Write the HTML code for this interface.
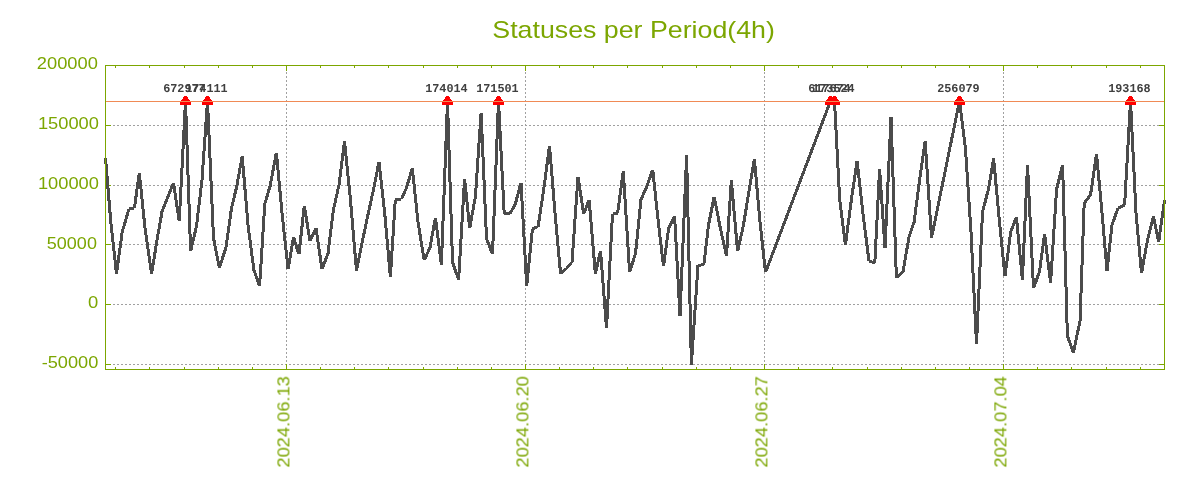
<!DOCTYPE html>
<html><head><meta charset="utf-8"><title>Statuses per Period(4h)</title>
<style>html,body{margin:0;padding:0;background:#fff;}svg{display:block;}text{font-family:"Liberation Sans",sans-serif;}.m{font-family:"Liberation Mono",monospace;font-weight:bold;}</style></head>
<body>
<svg width="1200" height="500" viewBox="0 0 1200 500">
<rect width="1200" height="500" fill="#fff"/>
<g stroke="#a0a0a0" stroke-width="1" stroke-dasharray="2 2" shape-rendering="crispEdges" fill="none">
<line x1="105" y1="125.5" x2="1165" y2="125.5"/>
<line x1="105" y1="185.5" x2="1165" y2="185.5"/>
<line x1="105" y1="244.5" x2="1165" y2="244.5"/>
<line x1="105" y1="304.5" x2="1165" y2="304.5"/>
<line x1="105" y1="364.5" x2="1165" y2="364.5"/>
<line x1="286.5" y1="370" x2="286.5" y2="65"/>
<line x1="525.5" y1="370" x2="525.5" y2="65"/>
<line x1="764.5" y1="370" x2="764.5" y2="65"/>
<line x1="1003.5" y1="370" x2="1003.5" y2="65"/>
</g>
<g stroke="#7ca600" stroke-width="1" fill="none" shape-rendering="crispEdges">
<line x1="105" y1="125.5" x2="111" y2="125.5"/><line x1="1159" y1="125.5" x2="1165" y2="125.5"/>
<line x1="105" y1="185.5" x2="111" y2="185.5"/><line x1="1159" y1="185.5" x2="1165" y2="185.5"/>
<line x1="105" y1="244.5" x2="111" y2="244.5"/><line x1="1159" y1="244.5" x2="1165" y2="244.5"/>
<line x1="105" y1="304.5" x2="111" y2="304.5"/><line x1="1159" y1="304.5" x2="1165" y2="304.5"/>
<line x1="105" y1="364.5" x2="111" y2="364.5"/><line x1="1159" y1="364.5" x2="1165" y2="364.5"/>
<line x1="286.5" y1="364" x2="286.5" y2="370"/><line x1="286.5" y1="65" x2="286.5" y2="71"/>
<line x1="525.5" y1="364" x2="525.5" y2="370"/><line x1="525.5" y1="65" x2="525.5" y2="71"/>
<line x1="764.5" y1="364" x2="764.5" y2="370"/><line x1="764.5" y1="65" x2="764.5" y2="71"/>
<line x1="1003.5" y1="364" x2="1003.5" y2="370"/><line x1="1003.5" y1="65" x2="1003.5" y2="71"/>
<line x1="115.5" y1="367" x2="115.5" y2="370"/><line x1="115.5" y1="65" x2="115.5" y2="68"/>
<line x1="149.5" y1="367" x2="149.5" y2="370"/><line x1="149.5" y1="65" x2="149.5" y2="68"/>
<line x1="184.5" y1="367" x2="184.5" y2="370"/><line x1="184.5" y1="65" x2="184.5" y2="68"/>
<line x1="218.5" y1="367" x2="218.5" y2="370"/><line x1="218.5" y1="65" x2="218.5" y2="68"/>
<line x1="252.5" y1="367" x2="252.5" y2="370"/><line x1="252.5" y1="65" x2="252.5" y2="68"/>
<line x1="320.5" y1="367" x2="320.5" y2="370"/><line x1="320.5" y1="65" x2="320.5" y2="68"/>
<line x1="354.5" y1="367" x2="354.5" y2="370"/><line x1="354.5" y1="65" x2="354.5" y2="68"/>
<line x1="388.5" y1="367" x2="388.5" y2="370"/><line x1="388.5" y1="65" x2="388.5" y2="68"/>
<line x1="423.5" y1="367" x2="423.5" y2="370"/><line x1="423.5" y1="65" x2="423.5" y2="68"/>
<line x1="457.5" y1="367" x2="457.5" y2="370"/><line x1="457.5" y1="65" x2="457.5" y2="68"/>
<line x1="491.5" y1="367" x2="491.5" y2="370"/><line x1="491.5" y1="65" x2="491.5" y2="68"/>
<line x1="559.5" y1="367" x2="559.5" y2="370"/><line x1="559.5" y1="65" x2="559.5" y2="68"/>
<line x1="593.5" y1="367" x2="593.5" y2="370"/><line x1="593.5" y1="65" x2="593.5" y2="68"/>
<line x1="627.5" y1="367" x2="627.5" y2="370"/><line x1="627.5" y1="65" x2="627.5" y2="68"/>
<line x1="662.5" y1="367" x2="662.5" y2="370"/><line x1="662.5" y1="65" x2="662.5" y2="68"/>
<line x1="696.5" y1="367" x2="696.5" y2="370"/><line x1="696.5" y1="65" x2="696.5" y2="68"/>
<line x1="730.5" y1="367" x2="730.5" y2="370"/><line x1="730.5" y1="65" x2="730.5" y2="68"/>
<line x1="798.5" y1="367" x2="798.5" y2="370"/><line x1="798.5" y1="65" x2="798.5" y2="68"/>
<line x1="832.5" y1="367" x2="832.5" y2="370"/><line x1="832.5" y1="65" x2="832.5" y2="68"/>
<line x1="867.5" y1="367" x2="867.5" y2="370"/><line x1="867.5" y1="65" x2="867.5" y2="68"/>
<line x1="901.5" y1="367" x2="901.5" y2="370"/><line x1="901.5" y1="65" x2="901.5" y2="68"/>
<line x1="935.5" y1="367" x2="935.5" y2="370"/><line x1="935.5" y1="65" x2="935.5" y2="68"/>
<line x1="969.5" y1="367" x2="969.5" y2="370"/><line x1="969.5" y1="65" x2="969.5" y2="68"/>
<line x1="1037.5" y1="367" x2="1037.5" y2="370"/><line x1="1037.5" y1="65" x2="1037.5" y2="68"/>
<line x1="1071.5" y1="367" x2="1071.5" y2="370"/><line x1="1071.5" y1="65" x2="1071.5" y2="68"/>
<line x1="1106.5" y1="367" x2="1106.5" y2="370"/><line x1="1106.5" y1="65" x2="1106.5" y2="68"/>
<line x1="1140.5" y1="367" x2="1140.5" y2="370"/><line x1="1140.5" y1="65" x2="1140.5" y2="68"/>
</g>
<g fill="#4b4b4b" shape-rendering="crispEdges">
<polygon points="103.99,158.00 107.01,158.00 112.31,222.00 109.29,222.00"/>
<polygon points="109.29,222.00 112.31,222.00 118.01,273.90 114.99,273.90"/>
<polygon points="120.69,232.00 123.71,232.00 118.01,273.90 114.99,273.90"/>
<polygon points="127.44,208.60 130.56,208.60 123.76,232.00 120.64,232.00"/>
<polygon points="129.00,207.10 134.40,206.70 134.40,209.70 129.00,210.10"/>
<polygon points="137.79,172.60 140.81,172.60 135.91,208.20 132.89,208.20"/>
<polygon points="137.79,172.60 140.81,172.60 146.51,228.00 143.49,228.00"/>
<polygon points="143.48,228.00 146.52,228.00 153.12,273.90 150.08,273.90"/>
<polygon points="155.48,240.00 158.52,240.00 153.12,273.90 150.08,273.90"/>
<polygon points="160.58,211.50 163.62,211.50 158.52,240.00 155.48,240.00"/>
<polygon points="166.19,197.00 169.41,197.00 163.71,211.50 160.49,211.50"/>
<polygon points="171.89,182.60 175.11,182.60 169.41,197.00 166.19,197.00"/>
<polygon points="171.98,182.60 175.02,182.60 180.72,221.40 177.68,221.40"/>
<polygon points="184.00,101.00 187.00,101.00 180.70,221.40 177.70,221.40"/>
<polygon points="184.00,101.00 187.00,101.00 192.10,251.40 189.10,251.40"/>
<polygon points="194.96,226.00 198.04,226.00 192.14,251.40 189.06,251.40"/>
<polygon points="200.49,180.00 203.51,180.00 198.01,226.00 194.99,226.00"/>
<polygon points="206.00,101.00 209.00,101.00 203.50,180.00 200.50,180.00"/>
<polygon points="206.00,101.00 209.00,101.00 215.00,238.00 212.00,238.00"/>
<polygon points="211.97,238.00 215.03,238.00 220.93,267.90 217.87,267.90"/>
<polygon points="224.42,247.50 227.58,247.50 220.98,267.90 217.82,267.90"/>
<polygon points="229.99,208.00 233.01,208.00 227.51,247.50 224.49,247.50"/>
<polygon points="234.96,187.50 238.04,187.50 233.04,208.00 229.96,208.00"/>
<polygon points="240.68,156.10 243.72,156.10 238.02,187.50 234.98,187.50"/>
<polygon points="240.69,156.10 243.71,156.10 249.51,225.00 246.49,225.00"/>
<polygon points="246.49,225.00 249.51,225.00 255.41,270.00 252.39,270.00"/>
<polygon points="252.31,270.00 255.49,270.00 261.19,285.90 258.01,285.90"/>
<polygon points="263.30,204.00 266.30,204.00 261.10,285.90 258.10,285.90"/>
<polygon points="268.54,186.00 271.66,186.00 266.36,204.00 263.24,204.00"/>
<polygon points="274.87,152.60 277.93,152.60 271.63,186.00 268.57,186.00"/>
<polygon points="274.89,152.60 277.91,152.60 283.51,213.00 280.49,213.00"/>
<polygon points="280.49,213.00 283.51,213.00 289.61,269.40 286.59,269.40"/>
<polygon points="291.98,237.10 295.02,237.10 289.62,269.40 286.58,269.40"/>
<polygon points="291.93,237.10 295.07,237.10 300.47,254.40 297.33,254.40"/>
<polygon points="302.79,205.80 305.81,205.80 300.41,254.40 297.39,254.40"/>
<polygon points="302.78,205.80 305.82,205.80 311.52,240.90 308.48,240.90"/>
<polygon points="314.35,227.80 317.65,227.80 311.65,240.90 308.35,240.90"/>
<polygon points="314.48,227.80 317.52,227.80 323.52,269.40 320.48,269.40"/>
<polygon points="326.40,253.50 329.60,253.50 323.60,269.40 320.40,269.40"/>
<polygon points="331.89,210.00 334.91,210.00 329.51,253.50 326.49,253.50"/>
<polygon points="337.56,184.50 340.64,184.50 334.94,210.00 331.86,210.00"/>
<polygon points="342.99,141.10 346.01,141.10 340.61,184.50 337.59,184.50"/>
<polygon points="342.99,141.10 346.01,141.10 351.81,198.00 348.79,198.00"/>
<polygon points="348.79,198.00 351.81,198.00 358.01,270.90 354.99,270.90"/>
<polygon points="360.67,242.00 363.73,242.00 358.03,270.90 354.97,270.90"/>
<polygon points="366.37,215.00 369.43,215.00 363.73,242.00 360.67,242.00"/>
<polygon points="372.06,189.00 375.14,189.00 369.44,215.00 366.36,215.00"/>
<polygon points="377.47,161.60 380.53,161.60 375.13,189.00 372.07,189.00"/>
<polygon points="377.49,161.60 380.51,161.60 386.21,213.00 383.19,213.00"/>
<polygon points="383.19,213.00 386.21,213.00 391.91,276.90 388.89,276.90"/>
<polygon points="393.80,199.60 396.80,199.60 391.90,276.90 388.90,276.90"/>
<polygon points="395.30,198.10 401.40,197.90 401.40,200.90 395.30,201.10"/>
<polygon points="404.96,187.50 408.24,187.50 403.04,199.40 399.76,199.40"/>
<polygon points="410.74,168.10 413.86,168.10 408.16,187.50 405.04,187.50"/>
<polygon points="410.79,168.10 413.81,168.10 419.51,222.00 416.49,222.00"/>
<polygon points="416.48,222.00 419.52,222.00 425.72,260.40 422.68,260.40"/>
<polygon points="428.36,247.50 431.64,247.50 425.84,260.40 422.56,260.40"/>
<polygon points="433.88,217.60 436.92,217.60 431.52,247.50 428.48,247.50"/>
<polygon points="433.89,217.60 436.91,217.60 442.91,264.90 439.89,264.90"/>
<polygon points="446.00,101.00 449.00,101.00 442.90,264.90 439.90,264.90"/>
<polygon points="446.00,101.00 449.00,101.00 454.00,262.00 451.00,262.00"/>
<polygon points="450.92,262.00 454.08,262.00 460.18,279.90 457.02,279.90"/>
<polygon points="463.10,178.60 466.10,178.60 460.10,279.90 457.10,279.90"/>
<polygon points="463.09,178.60 466.11,178.60 471.21,228.30 468.19,228.30"/>
<polygon points="473.88,196.50 476.92,196.50 471.22,228.30 468.18,228.30"/>
<polygon points="479.60,112.60 482.60,112.60 476.90,196.50 473.90,196.50"/>
<polygon points="479.60,112.60 482.60,112.60 488.00,238.50 485.00,238.50"/>
<polygon points="484.90,238.50 488.10,238.50 494.10,254.40 490.90,254.40"/>
<polygon points="497.00,101.00 500.00,101.00 494.00,254.40 491.00,254.40"/>
<polygon points="497.00,101.00 500.00,101.00 505.70,213.70 502.70,213.70"/>
<polygon points="504.20,212.20 510.00,212.20 510.00,215.20 504.20,215.20"/>
<polygon points="513.59,204.00 517.01,204.00 511.71,213.70 508.29,213.70"/>
<polygon points="519.45,182.60 522.55,182.60 516.85,204.00 513.75,204.00"/>
<polygon points="519.50,182.60 522.50,182.60 528.20,285.90 525.20,285.90"/>
<polygon points="530.89,229.00 533.91,229.00 528.21,285.90 525.19,285.90"/>
<polygon points="532.40,227.36 538.10,224.86 538.10,228.14 532.40,230.64"/>
<polygon points="542.28,189.00 545.32,189.00 539.62,226.50 536.58,226.50"/>
<polygon points="547.99,145.60 551.01,145.60 545.31,189.00 542.29,189.00"/>
<polygon points="547.99,145.60 551.01,145.60 556.71,215.00 553.69,215.00"/>
<polygon points="553.69,215.00 556.71,215.00 562.11,273.90 559.09,273.90"/>
<polygon points="564.21,268.00 568.39,268.00 562.69,273.90 558.51,273.90"/>
<polygon points="566.30,265.92 572.00,260.42 572.00,264.58 566.30,270.08"/>
<polygon points="576.50,176.60 579.50,176.60 573.50,262.50 570.50,262.50"/>
<polygon points="576.48,176.60 579.52,176.60 585.22,213.90 582.18,213.90"/>
<polygon points="587.50,199.60 590.70,199.60 585.30,213.90 582.10,213.90"/>
<polygon points="587.59,199.60 590.61,199.60 596.91,273.90 593.89,273.90"/>
<polygon points="598.96,250.60 602.04,250.60 596.94,273.90 593.86,273.90"/>
<polygon points="599.00,250.60 602.00,250.60 608.00,328.30 605.00,328.30"/>
<polygon points="611.00,213.60 614.00,213.60 608.00,328.30 605.00,328.30"/>
<polygon points="612.50,212.09 617.60,211.49 617.60,214.51 612.50,215.11"/>
<polygon points="621.79,171.10 624.81,171.10 619.11,213.00 616.09,213.00"/>
<polygon points="621.80,171.10 624.80,171.10 631.10,272.40 628.10,272.40"/>
<polygon points="633.93,253.50 637.07,253.50 631.17,272.40 628.03,272.40"/>
<polygon points="639.49,199.50 642.51,199.50 637.01,253.50 633.99,253.50"/>
<polygon points="645.36,186.00 648.64,186.00 642.64,199.50 639.36,199.50"/>
<polygon points="651.11,169.60 654.29,169.60 648.59,186.00 645.41,186.00"/>
<polygon points="651.19,169.60 654.21,169.60 659.81,222.00 656.79,222.00"/>
<polygon points="656.79,222.00 659.81,222.00 665.01,266.40 661.99,266.40"/>
<polygon points="667.09,228.60 670.11,228.60 665.01,266.40 661.99,266.40"/>
<polygon points="672.94,216.10 676.26,216.10 670.26,228.60 666.94,228.60"/>
<polygon points="673.10,216.10 676.10,216.10 681.50,315.90 678.50,315.90"/>
<polygon points="685.10,155.20 688.10,155.20 681.50,315.90 678.50,315.90"/>
<polygon points="685.10,155.20 688.10,155.20 692.90,364.50 689.90,364.50"/>
<polygon points="696.50,265.30 699.50,265.30 692.90,364.50 689.90,364.50"/>
<polygon points="698.00,263.79 703.80,263.29 703.80,266.31 698.00,266.81"/>
<polygon points="706.99,225.00 710.01,225.00 705.31,264.80 702.29,264.80"/>
<polygon points="712.67,196.60 715.73,196.60 710.03,225.00 706.97,225.00"/>
<polygon points="712.67,196.60 715.73,196.60 721.83,228.00 718.77,228.00"/>
<polygon points="718.76,228.00 721.84,228.00 728.04,255.90 724.96,255.90"/>
<polygon points="729.80,180.10 732.80,180.10 728.00,255.90 725.00,255.90"/>
<polygon points="729.79,180.10 732.81,180.10 739.11,251.40 736.09,251.40"/>
<polygon points="741.76,226.00 744.84,226.00 739.14,251.40 736.06,251.40"/>
<polygon points="747.18,193.00 750.22,193.00 744.82,226.00 741.78,226.00"/>
<polygon points="752.88,159.10 755.92,159.10 750.22,193.00 747.18,193.00"/>
<polygon points="752.89,159.10 755.91,159.10 761.51,222.00 758.49,222.00"/>
<polygon points="758.49,222.00 761.51,222.00 767.01,272.40 763.99,272.40"/>
<polygon points="828.90,101.00 832.10,101.00 767.10,272.40 763.90,272.40"/>
<polygon points="830.50,99.50 834.50,99.50 834.50,102.50 830.50,102.50"/>
<polygon points="833.00,101.00 836.00,101.00 841.20,200.00 838.20,200.00"/>
<polygon points="838.19,200.00 841.21,200.00 846.91,245.40 843.89,245.40"/>
<polygon points="849.89,199.50 852.91,199.50 846.91,245.40 843.89,245.40"/>
<polygon points="855.58,160.60 858.62,160.60 852.92,199.50 849.88,199.50"/>
<polygon points="855.59,160.60 858.61,160.60 864.31,212.00 861.29,212.00"/>
<polygon points="861.29,212.00 864.31,212.00 870.51,261.40 867.49,261.40"/>
<polygon points="869.00,259.86 874.80,261.16 874.80,264.24 869.00,262.94"/>
<polygon points="878.10,169.00 881.10,169.00 876.30,262.70 873.30,262.70"/>
<polygon points="878.10,169.00 881.10,169.00 886.50,248.40 883.50,248.40"/>
<polygon points="889.50,117.10 892.50,117.10 886.50,248.40 883.50,248.40"/>
<polygon points="889.50,117.10 892.50,117.10 897.90,278.40 894.90,278.40"/>
<polygon points="900.92,271.50 905.08,271.50 898.48,278.40 894.32,278.40"/>
<polygon points="907.48,237.00 910.52,237.00 904.52,271.50 901.48,271.50"/>
<polygon points="912.52,222.00 915.68,222.00 910.58,237.00 907.42,237.00"/>
<polygon points="918.09,180.00 921.11,180.00 915.61,222.00 912.59,222.00"/>
<polygon points="923.68,141.10 926.72,141.10 921.12,180.00 918.08,180.00"/>
<polygon points="923.70,141.10 926.70,141.10 933.00,237.90 930.00,237.90"/>
<polygon points="957.97,101.00 961.03,101.00 933.03,237.90 929.97,237.90"/>
<polygon points="957.99,101.00 961.01,101.00 966.91,148.00 963.89,148.00"/>
<polygon points="963.90,148.00 966.90,148.00 972.50,232.00 969.50,232.00"/>
<polygon points="969.50,232.00 972.50,232.00 978.00,344.10 975.00,344.10"/>
<polygon points="981.00,212.00 984.00,212.00 978.00,344.10 975.00,344.10"/>
<polygon points="986.95,189.00 990.05,189.00 984.05,212.00 980.95,212.00"/>
<polygon points="992.08,158.20 995.12,158.20 990.02,189.00 986.98,189.00"/>
<polygon points="992.09,158.20 995.11,158.20 1000.81,220.00 997.79,220.00"/>
<polygon points="997.79,220.00 1000.81,220.00 1006.51,276.40 1003.49,276.40"/>
<polygon points="1009.19,232.00 1012.21,232.00 1006.51,276.40 1003.49,276.40"/>
<polygon points="1014.80,217.00 1018.00,217.00 1012.30,232.00 1009.10,232.00"/>
<polygon points="1014.89,217.00 1017.91,217.00 1023.91,279.90 1020.89,279.90"/>
<polygon points="1026.00,165.10 1029.00,165.10 1023.90,279.90 1020.90,279.90"/>
<polygon points="1026.00,165.10 1029.00,165.10 1035.00,288.40 1032.00,288.40"/>
<polygon points="1037.91,271.50 1041.09,271.50 1035.09,288.40 1031.91,288.40"/>
<polygon points="1043.09,234.10 1046.11,234.10 1041.01,271.50 1037.99,271.50"/>
<polygon points="1043.09,234.10 1046.11,234.10 1052.11,282.90 1049.09,282.90"/>
<polygon points="1055.10,189.00 1058.10,189.00 1052.10,282.90 1049.10,282.90"/>
<polygon points="1061.05,165.10 1064.15,165.10 1058.15,189.00 1055.05,189.00"/>
<polygon points="1061.10,165.10 1064.10,165.10 1068.90,336.00 1065.90,336.00"/>
<polygon points="1065.80,336.00 1069.00,336.00 1075.00,352.50 1071.80,352.50"/>
<polygon points="1078.47,321.00 1081.53,321.00 1074.93,352.50 1071.87,352.50"/>
<polygon points="1082.70,203.40 1085.70,203.40 1081.50,321.00 1078.50,321.00"/>
<polygon points="1088.62,195.00 1092.38,195.00 1086.08,203.40 1082.33,203.40"/>
<polygon points="1094.98,154.00 1098.02,154.00 1092.02,195.00 1088.98,195.00"/>
<polygon points="1094.99,154.00 1098.01,154.00 1103.31,210.00 1100.29,210.00"/>
<polygon points="1100.29,210.00 1103.31,210.00 1108.51,270.90 1105.49,270.90"/>
<polygon points="1110.49,225.00 1113.51,225.00 1108.51,270.90 1105.49,270.90"/>
<polygon points="1116.41,208.00 1119.59,208.00 1113.59,225.00 1110.41,225.00"/>
<polygon points="1118.00,206.35 1124.60,203.35 1124.60,206.65 1118.00,209.65"/>
<polygon points="1129.00,101.00 1132.00,101.00 1126.10,205.00 1123.10,205.00"/>
<polygon points="1129.00,101.00 1132.00,101.00 1137.50,213.00 1134.50,213.00"/>
<polygon points="1134.49,213.00 1137.51,213.00 1143.01,273.30 1139.99,273.30"/>
<polygon points="1145.98,240.00 1149.02,240.00 1143.02,273.30 1139.98,273.30"/>
<polygon points="1151.95,216.10 1155.05,216.10 1149.05,240.00 1145.95,240.00"/>
<polygon points="1151.97,216.10 1155.03,216.10 1160.13,242.40 1157.07,242.40"/>
<polygon points="1162.99,200.30 1166.01,200.30 1160.11,242.40 1157.09,242.40"/>
</g>
<g fill="#ff0000" shape-rendering="crispEdges">
<path d="M184.0 96h3v1h-3zM183.0 97h5v2h-5zM182.0 99h7v1h-7zM181.0 100h9v1h-9zM180.0 101h11v4h-11z"/>
<path d="M206.0 96h3v1h-3zM205.0 97h5v2h-5zM204.0 99h7v1h-7zM203.0 100h9v1h-9zM202.0 101h11v4h-11z"/>
<path d="M446.0 96h3v1h-3zM445.0 97h5v2h-5zM444.0 99h7v1h-7zM443.0 100h9v1h-9zM442.0 101h11v4h-11z"/>
<path d="M497.0 96h3v1h-3zM496.0 97h5v2h-5zM495.0 99h7v1h-7zM494.0 100h9v1h-9zM493.0 101h11v4h-11z"/>
<path d="M829.0 96h3v1h-3zM828.0 97h5v2h-5zM827.0 99h7v1h-7zM826.0 100h9v1h-9zM825.0 101h11v4h-11z"/>
<path d="M833.0 96h3v1h-3zM832.0 97h5v2h-5zM831.0 99h7v1h-7zM830.0 100h9v1h-9zM829.0 101h11v4h-11z"/>
<path d="M958.0 96h3v1h-3zM957.0 97h5v2h-5zM956.0 99h7v1h-7zM955.0 100h9v1h-9zM954.0 101h11v4h-11z"/>
<path d="M1129.0 96h3v1h-3zM1128.0 97h5v2h-5zM1127.0 99h7v1h-7zM1126.0 100h9v1h-9zM1125.0 101h11v4h-11z"/>
</g>
<line x1="105" y1="101.5" x2="1165" y2="101.5" stroke="#f08a55" stroke-width="1" shape-rendering="crispEdges"/>
<rect x="105.5" y="65.5" width="1059" height="304" stroke="#7ca600" stroke-width="1" fill="none" shape-rendering="crispEdges"/>
<g fill="#7ca600" opacity="0.999">
<text x="492.3" y="37.5" font-size="24" textLength="282.6" lengthAdjust="spacingAndGlyphs">Statuses per Period(4h)</text>
<text x="36.80" y="69.1" font-size="16.5" textLength="61.10" lengthAdjust="spacingAndGlyphs">200000</text>
<text x="37.90" y="128.9" font-size="16.5" textLength="61.00" lengthAdjust="spacingAndGlyphs">150000</text>
<text x="37.90" y="188.7" font-size="16.5" textLength="61.00" lengthAdjust="spacingAndGlyphs">100000</text>
<text x="46.85" y="248.5" font-size="16.5" textLength="50.05" lengthAdjust="spacingAndGlyphs">50000</text>
<text x="88.05" y="308.3" font-size="16.5" textLength="10.25" lengthAdjust="spacingAndGlyphs">0</text>
<text x="41.70" y="368.1" font-size="16.5" textLength="56.60" lengthAdjust="spacingAndGlyphs">-50000</text>
<text transform="translate(289.4,467.6) rotate(-90)" font-size="16.5" textLength="91.5" lengthAdjust="spacingAndGlyphs">2024.06.13</text>
<text transform="translate(528.4,467.6) rotate(-90)" font-size="16.5" textLength="91.5" lengthAdjust="spacingAndGlyphs">2024.06.20</text>
<text transform="translate(767.4,467.6) rotate(-90)" font-size="16.5" textLength="91.5" lengthAdjust="spacingAndGlyphs">2024.06.27</text>
<text transform="translate(1006.4,467.6) rotate(-90)" font-size="16.5" textLength="91.5" lengthAdjust="spacingAndGlyphs">2024.07.04</text>
</g>
<g fill="#404040" class="m" opacity="0.999">
<text class="m" x="163.2" y="92" font-size="12.0" textLength="42.4" text-rendering="geometricPrecision" lengthAdjust="spacingAndGlyphs">672977</text>
<text class="m" x="185.2" y="92" font-size="12.0" textLength="42.4" text-rendering="geometricPrecision" lengthAdjust="spacingAndGlyphs">174111</text>
<text class="m" x="425.2" y="92" font-size="12.0" textLength="42.4" text-rendering="geometricPrecision" lengthAdjust="spacingAndGlyphs">174014</text>
<text class="m" x="476.2" y="92" font-size="12.0" textLength="42.4" text-rendering="geometricPrecision" lengthAdjust="spacingAndGlyphs">171501</text>
<text class="m" x="808.2" y="92" font-size="12.0" textLength="42.4" text-rendering="geometricPrecision" lengthAdjust="spacingAndGlyphs">617674</text>
<text class="m" x="812.2" y="92" font-size="12.0" textLength="42.4" text-rendering="geometricPrecision" lengthAdjust="spacingAndGlyphs">173524</text>
<text class="m" x="937.2" y="92" font-size="12.0" textLength="42.4" text-rendering="geometricPrecision" lengthAdjust="spacingAndGlyphs">256079</text>
<text class="m" x="1108.2" y="92" font-size="12.0" textLength="42.4" text-rendering="geometricPrecision" lengthAdjust="spacingAndGlyphs">193168</text>
</g>
<defs><clipPath id="c"><rect x="105" y="65" width="1060" height="305"/></clipPath></defs>
</svg>
</body></html>
